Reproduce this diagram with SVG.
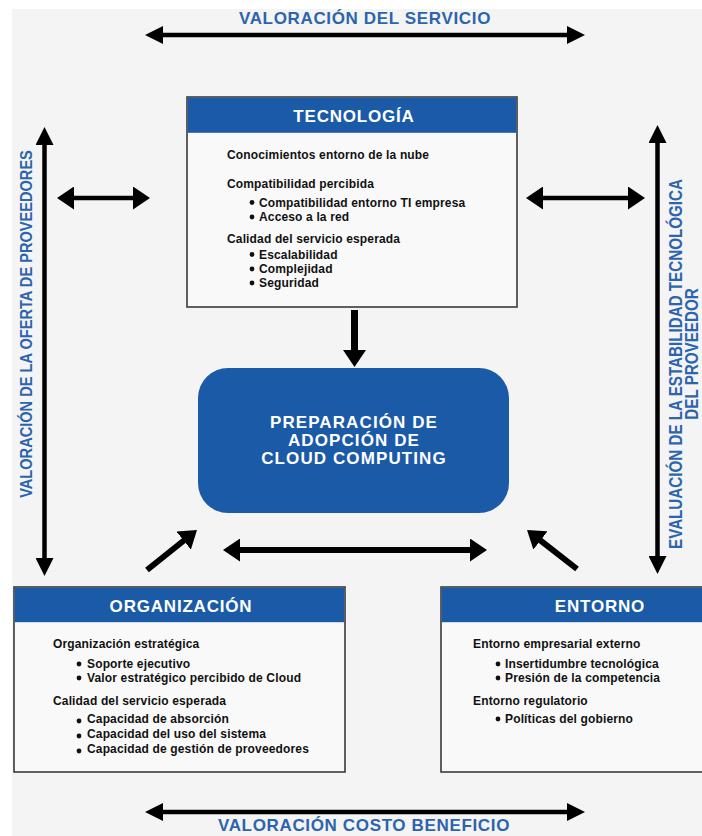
<svg xmlns="http://www.w3.org/2000/svg" width="702" height="836" viewBox="0 0 702 836">
  <style>
    .box { fill: #f9f9f9; stroke: #3a3a3a; stroke-width: 1.6; }
    .bar { fill: #1b5aa7; }
    .hd { font-family: "Liberation Sans", Arial, sans-serif; font-weight: bold; font-size: 17px; fill: #ffffff; text-anchor: middle; letter-spacing: 0.8px; }
    .tx { font-family: "Liberation Sans", Arial, sans-serif; font-weight: bold; font-size: 12px; fill: #111111; letter-spacing: 0.15px; }
    .lbl { font-family: "Liberation Sans", Arial, sans-serif; font-weight: bold; font-size: 17px; fill: #2c64ad; text-anchor: middle; letter-spacing: 0.65px; }
    .vl { font-family: "Liberation Sans", Arial, sans-serif; font-weight: bold; font-size: 14.6px; fill: #2c64ad; text-anchor: middle; }
    .dot { fill: #111111; }
    .ln { stroke: #000000; fill: none; stroke-width: 4.5; }
    .th { stroke: #000000; fill: none; stroke-width: 6; }
  </style>
  <defs>
    <marker id="hs" viewBox="0 0 18 18" markerWidth="18" markerHeight="18" refX="6" refY="9" markerUnits="userSpaceOnUse" orient="auto-start-reverse">
      <path d="M0,0 L18,9 L0,18 z" fill="#000"/>
    </marker>
    <marker id="hl" viewBox="0 0 17 23" markerWidth="17" markerHeight="23" refX="5" refY="11.5" markerUnits="userSpaceOnUse" orient="auto-start-reverse">
      <path d="M0,0 L17,11.5 L0,23 z" fill="#000"/>
    </marker>
  </defs>

  <!-- page -->
  <rect x="0" y="0" width="702" height="836" fill="#ffffff"/>
  <rect x="12" y="9" width="690" height="827" fill="#f4f4f4"/>

  <!-- axis labels -->
  <g id="labels">
    <text class="lbl" x="365" y="24">VALORACIÓN DEL SERVICIO</text>
    <text class="lbl" x="364" y="831">VALORACIÓN COSTO BENEFICIO</text>
    <text class="vl" transform="translate(32,324) rotate(-90) scale(1,1.15)">VALORACIÓN DE LA OFERTA DE PROVEEDORES</text>
    <text class="vl" style="font-size:15.2px" transform="translate(682,364) rotate(-90) scale(1,1.15)">EVALUACIÓN DE LA ESTABILIDAD TECNOLÓGICA</text>
    <text class="vl" style="font-size:15.2px" transform="translate(698,354) rotate(-90) scale(1,1.15)">DEL PROVEEDOR</text>
  </g>

  <!-- connectors -->
  <g id="connectors">
    <line class="ln" x1="157" y1="35" x2="573" y2="35" marker-start="url(#hs)" marker-end="url(#hs)"/>
    <line class="ln" x1="157" y1="812" x2="573" y2="812" marker-start="url(#hs)" marker-end="url(#hs)"/>
    <line class="ln" x1="44.5" y1="139" x2="44.5" y2="564" marker-start="url(#hs)" marker-end="url(#hs)"/>
    <line class="ln" x1="657.5" y1="137" x2="657.5" y2="562" marker-start="url(#hs)" marker-end="url(#hs)"/>
    <line class="ln" x1="69" y1="198" x2="138" y2="198" marker-start="url(#hl)" marker-end="url(#hl)"/>
    <line class="ln" x1="538" y1="198" x2="633" y2="198" marker-start="url(#hl)" marker-end="url(#hl)"/>
    <line class="th" x1="354.5" y1="310" x2="354.5" y2="355" style="stroke-width:7" marker-end="url(#hl)"/>
    <line class="th" x1="235" y1="550" x2="475" y2="550" marker-start="url(#hl)" marker-end="url(#hl)"/>
    <line class="th" x1="147" y1="570" x2="187.6" y2="537.5" marker-end="url(#hl)"/>
    <line class="th" x1="577" y1="569" x2="536.5" y2="537.4" marker-end="url(#hl)"/>
  </g>

  <!-- Tecnología -->
  <g id="tecnologia">
    <rect class="box" x="187" y="97" width="330" height="210"/>
    <rect class="bar" x="187.8" y="97.8" width="328.4" height="35"/>
    <text class="hd" x="354" y="122">TECNOLOGÍA</text>
    <text class="tx" x="227" y="159">Conocimientos entorno de la nube</text>
    <text class="tx" x="227" y="187.5">Compatibilidad percibida</text>
    <circle class="dot" cx="252" cy="202.5" r="2.4"/>
    <text class="tx" x="259" y="206.5">Compatibilidad entorno TI empresa</text>
    <circle class="dot" cx="252" cy="217" r="2.4"/>
    <text class="tx" x="259" y="221">Acceso a la red</text>
    <text class="tx" x="227" y="243">Calidad del servicio esperada</text>
    <circle class="dot" cx="252" cy="254.5" r="2.4"/>
    <text class="tx" x="259" y="258.5">Escalabilidad</text>
    <circle class="dot" cx="252" cy="269" r="2.4"/>
    <text class="tx" x="259" y="273">Complejidad</text>
    <circle class="dot" cx="252" cy="283" r="2.4"/>
    <text class="tx" x="259" y="287">Seguridad</text>
  </g>

  <!-- Preparación de adopción -->
  <g id="preparacion">
    <rect x="198" y="368" width="311" height="145" rx="30" ry="30" fill="#1b5aa7"/>
    <text class="hd" x="354" y="428" style="letter-spacing:1.1px">PREPARACIÓN DE</text>
    <text class="hd" x="354" y="446" style="letter-spacing:1.1px">ADOPCIÓN DE</text>
    <text class="hd" x="354" y="464" style="letter-spacing:1.1px">CLOUD COMPUTING</text>
  </g>

  <!-- Organización -->
  <g id="organizacion">
    <rect class="box" x="14" y="587" width="331" height="185"/>
    <rect class="bar" x="14.8" y="587.8" width="329.4" height="34.4"/>
    <text class="hd" x="181" y="612">ORGANIZACIÓN</text>
    <text class="tx" x="53" y="648">Organización estratégica</text>
    <circle class="dot" cx="79" cy="664" r="2.4"/>
    <text class="tx" x="87" y="668">Soporte ejecutivo</text>
    <circle class="dot" cx="79" cy="678" r="2.4"/>
    <text class="tx" x="87" y="682">Valor estratégico percibido de Cloud</text>
    <text class="tx" x="53" y="705">Calidad del servicio esperada</text>
    <circle class="dot" cx="79" cy="721" r="2.4"/>
    <text class="tx" x="87" y="723">Capacidad de absorción</text>
    <circle class="dot" cx="79" cy="736" r="2.4"/>
    <text class="tx" x="87" y="738">Capacidad del uso del sistema</text>
    <circle class="dot" cx="79" cy="751" r="2.4"/>
    <text class="tx" x="87" y="753">Capacidad de gestión de proveedores</text>
  </g>

  <!-- Entorno -->
  <g id="entorno">
    <rect class="box" x="441" y="587" width="320" height="185"/>
    <rect class="bar" x="441.8" y="587.8" width="318.4" height="34.4"/>
    <text class="hd" x="600" y="612">ENTORNO</text>
    <text class="tx" x="473" y="648">Entorno empresarial externo</text>
    <circle class="dot" cx="498" cy="664" r="2.4"/>
    <text class="tx" x="505" y="668">Insertidumbre tecnológica</text>
    <circle class="dot" cx="498" cy="678" r="2.4"/>
    <text class="tx" x="505" y="682">Presión de la competencia</text>
    <text class="tx" x="473" y="705">Entorno regulatorio</text>
    <circle class="dot" cx="498" cy="719" r="2.4"/>
    <text class="tx" x="505" y="723">Políticas del gobierno</text>
  </g>
</svg>
